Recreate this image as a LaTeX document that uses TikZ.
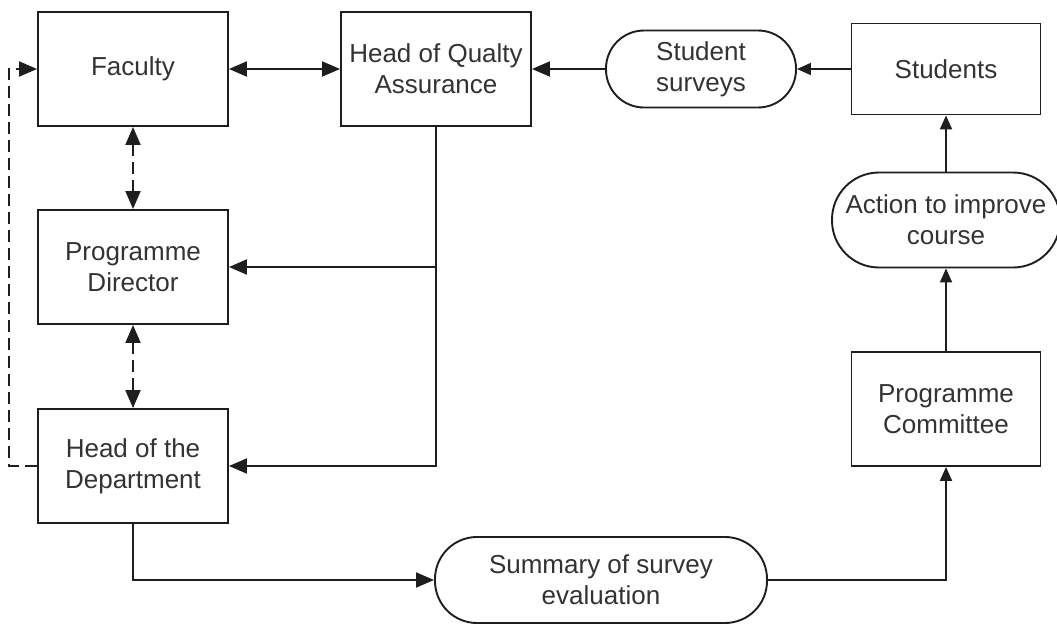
\documentclass[tikz,border=0pt]{standalone}
\usepackage{fontspec}
\setmainfont{Liberation Sans}
\usetikzlibrary{arrows.meta}
\definecolor{linec}{HTML}{1E1E1E}
\definecolor{textc}{HTML}{333333}
\begin{document}
\begin{tikzpicture}[x=1pt,y=-1pt,
  line width=1.9pt, draw=linec,
  box/.style={draw=linec, line width=1.9pt, minimum width=190pt, minimum height=114pt,
    align=center, text=textc, font=\fontsize{26}{31}\selectfont, inner sep=0pt},
  pill/.style={box},
  arr/.style={-{Triangle[length=18pt,width=15pt]}},
  sarr/.style={-{Triangle[length=14pt,width=12pt]}},
  darr/.style={{Triangle[length=18pt,width=15pt]}-{Triangle[length=18pt,width=15pt]}},
  dsh/.style={dash pattern=on 12pt off 6pt}
]
\useasboundingbox[fill=white] (0,0) rectangle (1057,627);

% left column
\node[box] (fac) at (133,69) {Faculty};
\node[box] (pd)  at (133,267) {Programme\\Director};
\node[box] (hod) at (133,466) {Head of the\\Department};

% top row
\node[box] (hqa) at (436,69) {Head of Qualty\\Assurance};
\node[pill, minimum width=190pt, minimum height=77pt, rounded corners=38pt] (surv) at (701,69) {Student\\surveys};
\node[box, minimum width=189pt, minimum height=91pt] (stud) at (946,69) {Students};

% right column
\node[pill, minimum width=228pt, minimum height=95pt, rounded corners=47pt] (act) at (946,220) {Action to improve\\course};
\node[box, minimum width=189pt] (pc) at (946,409) {Programme\\Committee};

% bottom
\node[pill, minimum width=332pt, minimum height=86pt, rounded corners=42pt] (sum) at (601,580) {Summary of survey\\evaluation};

% connectors
\draw[darr] (fac) -- (hqa);
\draw[sarr] (stud) -- (surv);
\draw[arr] (surv) -- (hqa);
\draw[arr] (hqa.south) |- (hod.east);
\draw[arr] (hqa.south |- pd.east) -- (pd.east);
\draw[darr, dsh] (fac) -- (pd);
\draw[darr, dsh] (pd) -- (hod);
\draw[arr] (hod.south) |- (sum.west);
\draw[sarr] (sum.east) -| (pc.south);
\draw[sarr] (pc) -- (act);
\draw[sarr] (act) -- (stud);
\draw[arr, dsh] (hod.west) -- ++(-28,0) |- (fac.west);
\end{tikzpicture}
\end{document}
